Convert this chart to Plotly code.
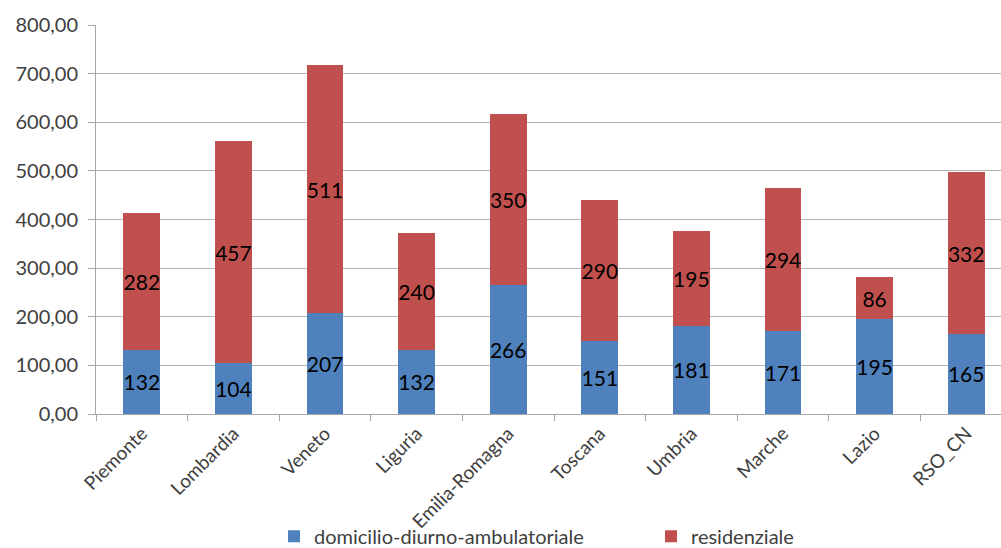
import plotly.graph_objects as go

regioni = ["Piemonte", "Lombardia", "Veneto", "Liguria", "Emilia-Romagna",
           "Toscana", "Umbria", "Marche", "Lazio", "RSO_CN"]
domicilio = [132, 104, 207, 132, 266, 151, 181, 171, 195, 165]
residenziale = [282, 457, 511, 240, 350, 290, 195, 294, 86, 332]
y_ticks = [0, 100, 200, 300, 400, 500, 600, 700, 800]

FONT = "Lato"
BLUE = "#4F81BD"
RED = "#C0504D"

fig = go.Figure()
fig.add_trace(go.Bar(
    x=regioni, y=domicilio, name="domicilio-diurno-ambulatoriale",
    marker=dict(color=BLUE, line=dict(width=0)),
    text=[str(v) for v in domicilio], textposition="inside",
    insidetextanchor="middle", textangle=0,
    textfont=dict(family=FONT, size=21, color="#000000"),
))
fig.add_trace(go.Bar(
    x=regioni, y=residenziale, name="residenziale",
    marker=dict(color=RED, line=dict(width=0)),
    text=[str(v) for v in residenziale], textposition="inside",
    insidetextanchor="middle", textangle=0,
    textfont=dict(family=FONT, size=21, color="#000000"),
))

fig.update_layout(
    barmode="stack",
    bargap=0.6,
    width=1001, height=548,
    margin=dict(l=96, r=0, t=25, b=134, autoexpand=False),
    paper_bgcolor="white", plot_bgcolor="white",
    separators=",.",
    uniformtext=dict(minsize=21, mode="show"),
    font=dict(family=FONT, color="#404040"),
    showlegend=True,
    legend=dict(orientation="h", x=0.1967, xanchor="left", y=-0.314,
                yanchor="middle", bgcolor="rgba(0,0,0,0)",
                font=dict(family=FONT, size=20, color="#404040"),
                itemwidth=30, traceorder="normal", entrywidth=332),
    xaxis=dict(
        type="category", range=[-0.5, 9.38],
        tickangle=-45, tickfont=dict(family=FONT, size=19, color="#404040"),
        showline=True, linecolor="#a6a6a6", linewidth=1,
        ticks="outside", tickson="boundaries", ticklen=6, tickcolor="#a6a6a6",
        showgrid=False, automargin=False,
    ),
    yaxis=dict(
        range=[0, 800], tickvals=y_ticks, tickformat=".2f",
        tickfont=dict(family=FONT, size=20, color="#404040"),
        showgrid=True, gridcolor="#b3b3b3", gridwidth=1,
        showline=True, linecolor="#a6a6a6", linewidth=1,
        ticks="outside", ticklen=7, tickcolor="#a6a6a6",
        ticklabelstandoff=6, zeroline=False, automargin=False,
    ),
)

fig.write_html("out.html")
